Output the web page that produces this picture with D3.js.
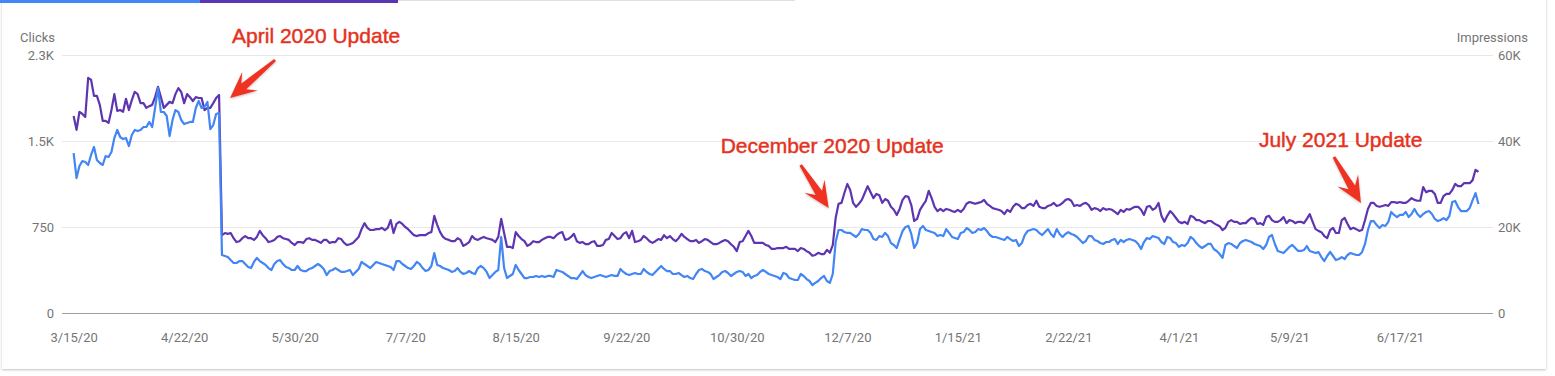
<!DOCTYPE html>
<html>
<head>
<meta charset="utf-8">
<script src="https://cdn.jsdelivr.net/npm/d3@7"></script>
<style>
  html, body { margin: 0; padding: 0; background: #fff; }
  svg { display: block; }
  .axis text { font-family: Roboto, "Noto Sans", sans-serif; font-size: 13px; fill: #757575; }
  .axis-title { font-family: Roboto, "Noto Sans", sans-serif; font-size: 13px; fill: #757575; }
  .note { font-family: "Liberation Sans", Arial, sans-serif; font-size: 21px; fill: #e5321d;
          stroke: #e5321d; stroke-width: 0.45px; }
</style>
</head>
<body>
<svg id="chart" width="1555" height="376"></svg>
<script>
// daily series, first day 3/15/20
const startDate = new Date(2020, 2, 15);

const clicks = [
  1395,1177,1282,1325,1317,1291,1378,1448,1334,1308,
  1291,1369,1360,1404,1526,1596,1535,1517,1526,1456,
  1552,1596,1587,1596,1622,1622,1666,1622,1788,1962,
  1753,1753,1718,1543,1683,1770,1753,1683,1648,1657,
  1666,1666,1788,1849,1788,1796,1840,1604,1639,1735,
  1744,506,
  497,488,462,436,436,453,453,427,401,392,
  445,480,453,436,419,392,375,427,453,462,
  427,401,392,375,375,410,375,366,366,384,
  392,410,427,410,384,331,366,375,392,375,
  358,358,366,375,331,358,384,445,427,410,
  392,419,445,436,427,419,410,401,375,453,
  453,427,410,392,384,410,445,427,
  392,366,375,410,523,419,410,392,384,375,
  358,366,392,358,340,349,366,349,340,392,
  410,392,358,305,331,358,375,663,392,305,
  323,340,419,375,340,305,305,314,314,323,
  314,323,314,323,323,314,375,366,358,340,
  323,305,305,296,331,366,331,314,305,314,
  323,331,323,314,323,331,323,323,384,358,
  340,331,340,349,340,340,384,358,340,331,
  358,384,410,384,366,366,340,340,349,331,
  314,323,305,296,340,375,384,366,358,340,
  296,314,331,358,366,349,323,340,358,366,
  358,323,340,305,323,331,358,375,358,340,
  331,323,314,296,
  349,340,305,296,288,288,340,323,296,279,
  244,262,279,305,323,279,262,340,619,724,
  724,706,698,698,680,663,689,732,724,724,
  698,645,637,671,663,698,671,610,593,567,
  645,715,750,759,689,567,610,732,759,724,
  715,706,698,671,680,671,732,698,663,654,
  645,698,706,741,724,698,706,732,724,741,
  715,680,663,663,654,645,637,663,645,628,
  637,584,610,680,715,724,732,724,698,680,
  706,732,689,663,732,689,663,689,706,689,
  680,663,637,610,628,671,671,637,628,610,
  602,619,619,637,645,602,637,619,637,645,
  637,
  628,602,558,619,654,645,671,663,654,619,
  602,663,654,619,610,576,593,584,610,663,
  645,610,584,567,584,602,602,558,541,514,
  480,593,610,602,584,567,610,628,637,628,
  619,602,593,584,558,593,663,680,602,541,
  532,523,549,576,593,567,541,541,549,584,
  541,532,523,532,488,453,497,532,497,462,
  471,488,471,506,523,514,506,506,532,602,
  724,802,802,767,741,767,759,794,881,855,
  837,855,855,881,837,863,907,863,837,863,
  881,889,863,820,802,811,828,811,846,968,
  977,924,889,889,889,916,985,1046,950
];

const impressions = [
  45800,42600,46800,46300,45600,54700,54200,50500,50500,48400,
  44700,44700,44200,47200,50900,47000,47200,46800,49800,47200,
  49500,51400,50900,48800,48800,47700,48100,48400,50200,52600,
  50200,47700,48400,49100,48800,50900,52300,51400,48800,50900,
  50200,49300,50200,50000,50000,47200,47700,47700,48800,50000,
  50700,18100,
  18600,18400,18600,17400,16500,16700,17400,17900,17400,17400,
  17000,17700,19100,18100,17400,16500,16700,17000,17700,17900,
  17400,17200,17000,16300,15800,16500,16500,16300,17200,17400,
  17000,17000,16700,16300,17000,17000,16300,16500,16500,17400,
  17200,16300,15800,16000,16300,17000,17700,19500,20900,19800,
  19300,19300,19500,19500,19800,19300,19800,21600,18600,20700,
  21200,20700,20000,19500,18800,18100,17900,18100,
  18100,18100,18600,18800,22600,20500,18800,17700,17200,17000,
  16700,16700,17400,17000,15600,16000,16500,17900,17200,17000,
  17400,17700,17400,17200,17000,16500,17700,21900,18600,15400,
  15400,15100,18800,17900,17200,16700,15600,16000,16700,16500,
  16500,17000,17400,17700,17700,17400,18100,18600,18800,17000,
  17200,17700,18400,16700,16300,16500,16000,16000,16500,16700,
  15600,15600,15800,17000,17200,18600,17900,17200,17400,18400,
  18800,17400,19100,16500,16700,17000,17900,17400,16700,16300,
  16700,17200,17000,18100,17400,17900,17200,16700,17400,18400,
  17700,17200,16700,16700,17000,16300,16700,17200,17000,16500,
  16000,16000,16300,16700,17000,16700,16000,15400,14400,16500,
  16700,17900,19100,17900,16300,16300,16300,16300,15800,15600,
  14900,14900,15100,15100,
  15100,15400,14900,14900,14900,14400,15100,14900,14400,14000,
  13300,13500,14000,13700,13700,14700,14000,15800,22100,25400,
  25600,27900,30000,28600,25600,24700,25400,26300,27900,29500,
  28100,26700,27700,27400,25600,26500,26100,24700,24000,22800,
  24200,26300,27200,27000,25100,21400,21900,24000,25100,26100,
  28400,26700,24700,23700,24200,23700,24200,24000,23700,23500,
  24000,23500,24200,25400,25800,25600,25400,25600,25800,26300,
  25400,24900,24400,24200,24000,23700,23000,24000,23500,24700,
  25400,25100,24400,24400,25100,25400,24900,26100,24700,24400,
  24400,24900,25100,25600,24900,25100,25600,26300,26500,26100,
  24900,25100,24900,25400,25600,25100,24000,24400,24200,23700,
  24400,24000,24200,24000,23500,23000,24000,23500,24200,24000,
  24400,
  24700,24700,24000,22800,24700,24900,24000,24400,25600,22600,
  21200,22600,23700,23000,22100,21200,20900,21200,20700,22600,
  22300,21600,21600,21200,20900,21400,21400,20900,20500,20200,
  19300,19800,21200,21600,21200,21200,20700,20900,20900,21600,
  22100,21900,20700,20900,20500,22300,22600,21600,21200,21200,
  21600,22300,20900,21600,21400,20900,21200,21200,20900,21900,
  23000,21200,19500,19100,18800,17900,17400,19300,19800,18600,
  18600,21600,22100,20700,19500,19800,19500,19100,19300,21600,
  24200,25600,25600,24900,24700,24900,25100,24900,25800,25800,
  25600,25800,25600,25600,26100,26700,26300,26100,26100,29300,
  28100,28400,28400,27700,25600,25600,27200,27700,27700,28600,
  30000,29500,29500,30200,30200,30200,30900,33300,32800
];

// x labels sit every 38 days
const tickLabels = ["3/15/20", "4/22/20", "5/30/20", "7/7/20", "8/15/20", "9/22/20", "10/30/20",
                    "12/7/20", "1/15/21", "2/22/21", "4/1/21", "5/9/21", "6/17/21"];
const tickStep = 38;

const clickTicks = [0, 750, 1500, 2250];
const clickTickLabels = ["0", "750", "1.5K", "2.3K"];
const imprTicks = [0, 20000, 40000, 60000];
const imprTickLabels = ["0", "20K", "40K", "60K"];

// annotations: anchored to a day on the impressions line
const notes = [
  { text: "April 2020 Update",    day: 50,  tip: [11, 3],  tail: [56, -35], label: [13, -52] },
  { text: "December 2020 Update", day: 262, tip: [-7, -10], tail: [-35, -53], label: [-115, -65] },
  { text: "July 2021 Update",     day: 445, tip: [-7, -6],  tail: [-34, -52], label: [-109, -62] }
];

const dates = clicks.map((d, i) => d3.timeDay.offset(startDate, i));
const rows = dates.map((d, i) => ({ date: d, clicks: clicks[i], impressions: impressions[i] }));

const svg = d3.select("#chart");
const W = 1555, H = 376;
const plot = { left: 62, right: 1493, top: 55, bottom: 313 };

// card + tabs
const defs = svg.append("defs");
const shadow = defs.append("filter").attr("id", "shadow")
  .attr("x", "-2%").attr("y", "-5%").attr("width", "104%").attr("height", "112%");
shadow.append("feDropShadow").attr("dx", 0).attr("dy", 1).attr("stdDeviation", 1.2)
  .attr("flood-color", "#000").attr("flood-opacity", 0.25);
const arrowShadow = defs.append("filter").attr("id", "ashadow");
arrowShadow.append("feDropShadow").attr("dx", 0).attr("dy", 1).attr("stdDeviation", 1)
  .attr("flood-color", "#000").attr("flood-opacity", 0.25);

svg.append("rect").attr("width", W).attr("height", H).attr("fill", "#fff");
svg.append("rect")
  .attr("x", 2).attr("y", -4).attr("width", 1544).attr("height", 373)
  .attr("fill", "#fff").attr("filter", "url(#shadow)");

svg.append("rect").attr("x", 0).attr("y", 0).attr("width", 200).attr("height", 3).attr("fill", "#4285f4");
svg.append("rect").attr("x", 200).attr("y", 0).attr("width", 198).attr("height", 3).attr("fill", "#5e35b1");
svg.append("line").attr("x1", 398).attr("x2", 795).attr("y1", 0.5).attr("y2", 0.5)
  .attr("stroke", "#e0e0e0");

// scales
const x = d3.scaleTime()
  .domain([d3.timeDay.offset(dates[0], -4), d3.timeDay.offset(dates[dates.length - 1], 5)])
  .range([plot.left, plot.right]);
const yClicks = d3.scaleLinear().domain([0, 2250]).range([plot.bottom, plot.top]);
const yImpr = d3.scaleLinear().domain([0, 60000]).range([plot.bottom, plot.top]);

// gridlines
svg.append("g")
  .selectAll("line")
  .data(clickTicks.slice(1))
  .join("line")
  .attr("x1", plot.left).attr("x2", plot.right)
  .attr("y1", d => Math.round(yClicks(d)) + 0.5).attr("y2", d => Math.round(yClicks(d)) + 0.5)
  .attr("stroke", "#e8e8e8");

svg.append("line")
  .attr("x1", plot.left).attr("x2", plot.right)
  .attr("y1", plot.bottom + 0.5).attr("y2", plot.bottom + 0.5)
  .attr("stroke", "#9e9e9e");

// axes
const leftAxis = svg.append("g").attr("class", "axis")
  .attr("transform", `translate(${plot.left},0)`)
  .call(d3.axisLeft(yClicks).tickValues(clickTicks)
    .tickFormat((d, i) => clickTickLabels[i]).tickSize(0).tickPadding(8));
leftAxis.select(".domain").remove();

const rightAxis = svg.append("g").attr("class", "axis")
  .attr("transform", `translate(${plot.right},0)`)
  .call(d3.axisRight(yImpr).tickValues(imprTicks)
    .tickFormat((d, i) => imprTickLabels[i]).tickSize(0).tickPadding(5));
rightAxis.select(".domain").remove();

const tickDates = tickLabels.map((t, i) => dates[i * tickStep]);
const bottomAxis = svg.append("g").attr("class", "axis")
  .attr("transform", `translate(0,${plot.bottom})`)
  .call(d3.axisBottom(x).tickValues(tickDates)
    .tickFormat((d, i) => tickLabels[i]).tickSize(0).tickPadding(20));
bottomAxis.select(".domain").remove();

svg.append("text").attr("class", "axis-title")
  .attr("x", 55).attr("y", 42).attr("text-anchor", "end").text("Clicks");
svg.append("text").attr("class", "axis-title")
  .attr("x", 1528).attr("y", 42).attr("text-anchor", "end").text("Impressions");

// lines
const imprLine = d3.line().x(d => x(d.date)).y(d => yImpr(d.impressions));
const clickLine = d3.line().x(d => x(d.date)).y(d => yClicks(d.clicks));

svg.append("path").datum(rows)
  .attr("d", imprLine)
  .attr("fill", "none").attr("stroke", "#5e35b1").attr("stroke-width", 2.2)
  .attr("stroke-linejoin", "round");
svg.append("path").datum(rows)
  .attr("d", clickLine)
  .attr("fill", "none").attr("stroke", "#4285f4").attr("stroke-width", 2.2)
  .attr("stroke-linejoin", "round");

// annotations
function arrowPath(t, p) {
  const dx = p[0] - t[0], dy = p[1] - t[1];
  const L = Math.hypot(dx, dy);
  const ux = dx / L, uy = dy / L, nx = -uy, ny = ux;
  const head = 26, half = 12, neck = 18, w0 = 1.4, w1 = 3.8;
  const at = (s, w) => [p[0] - ux * s + nx * w, p[1] - uy * s + ny * w];
  const pts = [
    [t[0] + nx * w0, t[1] + ny * w0], at(neck, w1), at(head, half), p,
    at(head, -half), at(neck, -w1), [t[0] - nx * w0, t[1] - ny * w0]
  ];
  return d3.line()(pts) + "Z";
}

notes.forEach(n => {
  const ax = x(dates[n.day]), ay = yImpr(impressions[n.day]);
  const tip = [ax + n.tip[0], ay + n.tip[1]];
  const tail = [ax + n.tail[0], ay + n.tail[1]];
  svg.append("path")
    .attr("d", arrowPath(tail, tip))
    .attr("fill", "#ef3323").attr("filter", "url(#ashadow)");
  svg.append("text").attr("class", "note")
    .attr("x", ax + n.label[0]).attr("y", ay + n.label[1])
    .text(n.text);
});
</script>
</body>
</html>
